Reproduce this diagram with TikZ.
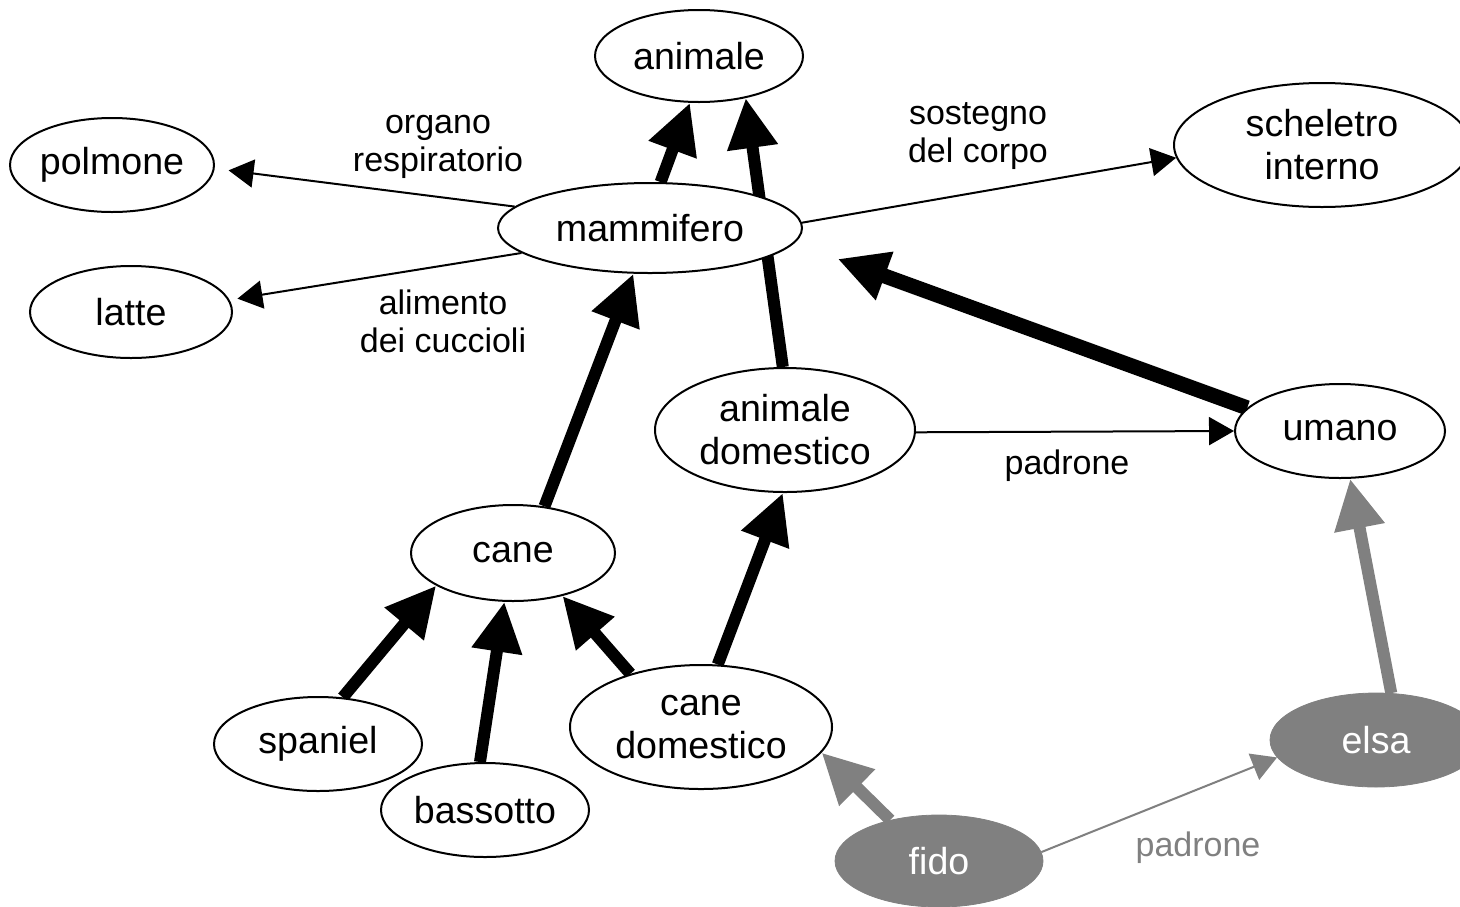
\documentclass[tikz,border=0pt]{standalone}
\usepackage{fontspec}
\setmainfont{Liberation Sans}
\usetikzlibrary{arrows.meta,shapes.geometric}
\pgfdeclarelayer{bg}
\pgfsetlayers{bg,main}
\definecolor{grey}{HTML}{808080}
\tikzset{
  concept/.style={ellipse, draw=black, line width=1pt, fill=white, inner sep=0pt,
    font=\fontsize{18.8}{21.5}\selectfont, align=center},
  inst/.style={ellipse, draw=grey, fill=grey, text=white, inner sep=0pt,
    font=\fontsize{18.8}{21.5}\selectfont, align=center},
  lbl/.style={font=\fontsize{17}{19}\selectfont, align=center},
  rel/.style={line width=1pt, -{Triangle[length=12.5pt,width=14pt]}},
  isa/.style={line width=6pt, -{Triangle[length=25pt,width=24pt]}},
  isag/.style={isa, grey},
}
\begin{document}
\begin{tikzpicture}[x=0.5pt,y=-0.5pt]
\clip (0,0) rectangle (1460,906);
% nodes
\node[concept, minimum width=104pt, minimum height=46pt] (ani) at (699,56) {animale};
\node[concept, minimum width=152pt, minimum height=45pt] (mam) at (650,228) {mammifero};
\node[concept, minimum width=100pt, minimum height=47pt] (pol) at (112,165) {polmone};
\node[concept, minimum width=101pt, minimum height=46pt] (lat) at (131,312) {latte};
\node[concept, minimum width=148pt, minimum height=62pt] (sch) at (1322,145) {scheletro\\interno};
\node[concept, minimum width=130pt, minimum height=62pt] (ad) at (785,430) {animale\\domestico};
\node[concept, minimum width=105pt, minimum height=47pt] (um) at (1340,431) {umano};
\node[concept, minimum width=102pt, minimum height=48pt] (cane) at (513,553) {cane};
\node[concept, minimum width=104pt, minimum height=47pt] (sp) at (318,744) {spaniel};
\node[concept, minimum width=104pt, minimum height=47pt] (bas) at (485,810) {bassotto};
\node[concept, minimum width=131pt, minimum height=62pt] (cd) at (701,727) {cane\\domestico};
\node[inst, minimum width=104pt, minimum height=46pt] (fido) at (939,861) {fido};
\node[inst, minimum width=106pt, minimum height=47pt] (elsa) at (1376,740) {elsa};
% labels
\node[lbl] (l1) at (438,147) {organo\\respiratorio};
\node[lbl] (l2) at (443,321) {alimento\\dei cuccioli};
\node[lbl] (l3) at (978,136) {sostegno\\del corpo};
\node[lbl] (l4) at (1067,466) {padrone};
\node[lbl, text=grey] (l5) at (1198,848) {padrone};
% edges
\begin{pgfonlayer}{bg}
\fill[white] (0,0) rectangle (1460,906);
\draw[isa] (mam.77) -- (ani.259);
\draw[isa] (ad.92) -- (ani.318);
\draw[rel, shorten >=7pt] (mam.171) -- (pol.358);
\draw[rel, shorten >=4pt] (mam.191) -- (lat.7);
\draw[rel] (mam.2) -- (sch.185);
\draw[isa] (cane.56) -- (mam.250);
\draw[isa, line width=7.5pt, shorten >=23pt] (um.166) -- (mam.354);
\draw[rel] (ad.359) -- (um.180);
\draw[isa] (cd.75) -- (ad.268);
\draw[isa] (cd.143) -- (cane.319);
\draw[isa] (sp.62) -- (cane.203);
\draw[isa] (bas.96) -- (cane.260);
\draw[isag] (fido.140) -- (cd.348);
\draw[rel, grey] (fido.5) -- (elsa.190);
\draw[isag] (elsa.72) -- (um.282);
\end{pgfonlayer}
\end{tikzpicture}
\end{document}
